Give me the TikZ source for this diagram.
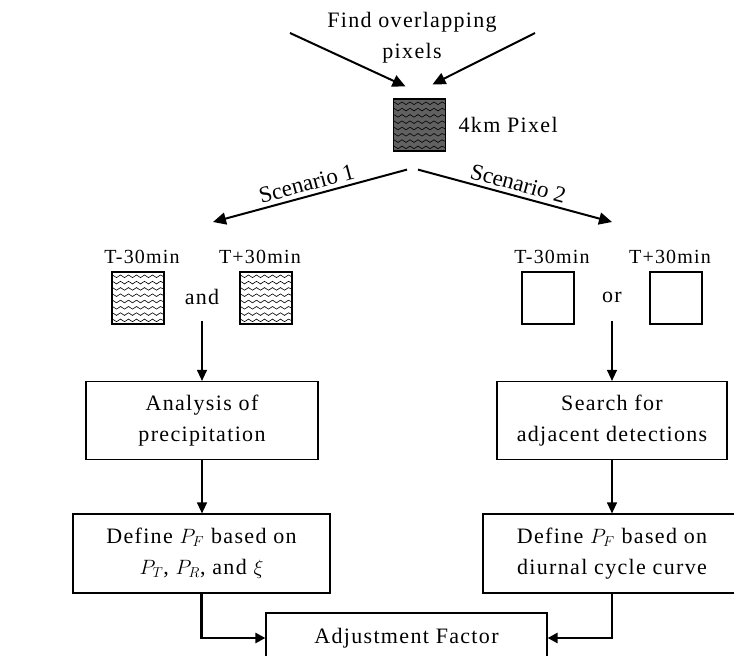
\documentclass[tikz,border=0pt]{standalone}
\usepackage{fontspec}
\setmainfont{Liberation Serif}[LetterSpace=6]
\usetikzlibrary{arrows.meta,positioning,decorations.pathmorphing}

\tikzset{
  wavy/.style={decorate, decoration={snake, amplitude=1.3pt, segment length=8pt}, line width=0.6pt},
  pixbox/.style={draw, line width=1.2pt, minimum size=52pt, inner sep=0pt,
    path picture={
      \foreach \k in {1,...,8}
        \draw[wavy] ([yshift=-\k*6.3pt+2pt, xshift=-2pt]path picture bounding box.north west)
          -- ([yshift=-\k*6.3pt+2pt, xshift=2pt]path picture bounding box.north east);
    }},
  emptybox/.style={draw, line width=1.2pt, minimum size=52pt, inner sep=0pt},
  stepbox/.style={draw, line width=1.2pt, align=center, minimum height=78pt, inner sep=2pt},
  tlabel/.style={font=\fontsize{20}{24}\selectfont},
  scenlabel/.style={font=\fontsize{23}{26}\selectfont\addfontfeature{LetterSpace=0}, inner sep=4pt},
  flow/.style={-{Triangle[length=11pt,width=10pt]}, line width=1.2pt},
  bigflow/.style={-{Triangle[length=13pt,width=12pt]}, line width=2pt},
  joinflow/.style={-{Triangle[length=10pt,width=10pt]}, line width=2.5pt}
}

\begin{document}
\begin{tikzpicture}[x=1pt, y=-1pt, font=\fontsize{22}{31}\selectfont]
\useasboundingbox (0,0) rectangle (734,656);

% the 4km pixel and where it comes from
\node[align=center] (find) at (412,38) {Find overlapping\\pixels};
\node[pixbox, fill=black!62] (px) at (419.5,125) {};
\node[right=9pt of px] (pxlabel) {4km Pixel};
\coordinate (inL) at (290,33);
\coordinate (inR) at (535,33);
\draw[bigflow] (inL) -- ([xshift=-14pt,yshift=12pt]px.north);
\draw[bigflow] (inR) -- ([xshift=13pt,yshift=14pt]px.north);

% the two scenarios
\coordinate (s1) at (213,222);
\coordinate (s2) at (612,222);
\draw[bigflow] ([xshift=-12.5pt,yshift=-18pt]px.south) -- node[midway, above, rotate=15, scenlabel] {Scenario 1} (s1);
\draw[bigflow] ([xshift=-1.5pt,yshift=-18pt]px.south) -- node[midway, above, rotate=-15, scenlabel] {Scenario 2} (s2);

% scenario 1: both neighbours detected
\node[tlabel] (tmL) at (142,257) {T-30min};
\node[tlabel] (tpL) at (260,257) {T+30min};
\node[pixbox, fill=white] (aL) at (138,298) {};
\node[pixbox, fill=white] (bL) at (266,298) {};
\node (and) at (202,297) {and};

% scenario 2: no neighbour detected
\node[tlabel] (tmR) at (552,257) {T-30min};
\node[tlabel] (tpR) at (670,257) {T+30min};
\node[emptybox] (aR) at (548,298) {};
\node[emptybox] (bR) at (676,298) {};
\node (or) at (612,297) {or};

% processing steps
\node[stepbox, minimum width=232pt] (anaL) at (202,420.5) {Analysis of\\precipitation};
\node[stepbox, minimum width=230pt] (anaR) at (612,420.5) {Search for\\adjacent detections};
\node[stepbox, minimum width=257pt, minimum height=79pt] (defL) at (201.5,553.5) {Define $P_F$ based on\\$P_T$, $P_R$, and $\xi$};
\node[stepbox, minimum width=258pt, minimum height=79pt] (defR) at (612,553.5) {Define $P_F$ based on\\diurnal cycle curve};
\node[stepbox, minimum width=281pt, minimum height=50pt] (adj) at (406.5,638) {Adjustment Factor};

\draw[flow] (and.center) ++(0,24) -- (anaL);
\draw[flow] (or.center) ++(0,24) -- (anaR);
\draw[flow] (anaL) -- (anaL.south |- defL.north);
\draw[flow] (anaR) -- (defR);
\draw[joinflow] (defL.south) |- (adj.west);
\draw[joinflow] (defR.south) |- (adj.east);
\end{tikzpicture}
\end{document}
